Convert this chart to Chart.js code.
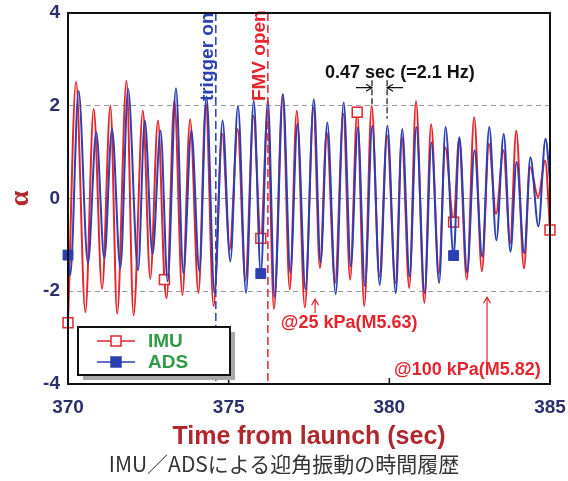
<!DOCTYPE html>
<html>
<head>
<meta charset="utf-8">
<script src="https://cdn.jsdelivr.net/npm/chart.js@4.4.0/dist/chart.umd.min.js"></script>
<style>
  body { margin: 0; background: #fff; }
  #wrap { position: relative; width: 568px; height: 481px; }
  #chartBox { position: absolute; left: 0; top: 0; width: 568px; height: 452px; }
  #caption {
    position: absolute; left: 0; top: 450px; width: 568px;
    text-align: center; font: 21px "Noto Sans CJK JP", sans-serif;
    line-height: 26px; color: #333;
  }
</style>
</head>
<body>
<div id="wrap">
  <div id="chartBox"><canvas id="alphaChart" width="568" height="452"></canvas></div>
  <div id="caption">IMU／ADSによる迎角振動の時間履歴</div>
</div>
<script>
// angle of attack, IMU (peaks / troughs and marker samples)
const imuT = [370.00, 370.25, 370.54, 370.80, 371.06, 371.32, 371.53, 371.82, 372.04, 372.33,
              372.56, 372.80, 373.00, 373.07, 373.31, 373.56, 373.80, 374.06, 374.29, 374.53,
              374.80, 375.03, 375.28, 375.52, 375.77, 376.00, 376.21, 376.41, 376.68, 376.90,
              377.12, 377.37, 377.64, 377.84, 378.05, 378.31, 378.57, 378.78, 379.00, 379.22,
              379.45, 379.69, 379.93, 380.19, 380.39, 380.62, 380.83, 381.09, 381.30, 381.54,
              381.74, 382.00, 382.17, 382.41, 382.64, 382.88, 383.10, 383.32, 383.55, 383.76,
              383.95, 384.19, 384.38, 384.63, 384.85, 385.00];
const imuA = [-2.68, 2.52, -2.45, 1.93, -1.95, 2.00, -2.48, 2.54, -2.52, 1.89,
              -1.73, 1.68, -1.75, -2.15, 2.12, -2.08, 1.71, -2.04, 2.05, -2.32,
              1.39, -1.10, 1.50, -1.76, 1.78, -0.86, 1.85, -2.38, 2.25, -1.96,
              1.89, -2.35, 1.96, -1.50, 1.43, -1.82, 1.83, -1.75, 1.86, -2.32,
              2.00, -1.68, 1.36, -1.82, 1.32, -1.93, 2.10, -2.25, 1.60, -1.61,
              1.10, -0.51, 1.29, -1.75, 1.75, -1.57, 1.18, -0.33, 1.04, -0.96,
              1.46, -1.51, 0.68, 0.03, 0.82, -0.68];

// angle of attack, ADS
const adsT = [370.00, 370.07, 370.33, 370.62, 370.88, 371.13, 371.37, 371.63, 371.87, 372.18,
              372.39, 372.63, 372.88, 373.10, 373.36, 373.59, 373.84, 374.09, 374.31, 374.56,
              374.81, 375.05, 375.29, 375.54, 375.78, 376.00, 376.22, 376.43, 376.69, 376.92,
              377.14, 377.39, 377.65, 377.86, 378.07, 378.33, 378.58, 378.80, 379.02, 379.24,
              379.47, 379.70, 379.94, 380.20, 380.40, 380.63, 380.84, 381.10, 381.31, 381.55,
              381.75, 382.00, 382.18, 382.42, 382.65, 382.89, 383.11, 383.33, 383.56, 383.77,
              383.96, 384.20, 384.39, 384.64, 384.86, 385.00];
const adsA = [-1.22, -1.65, 2.32, -1.40, 1.43, -1.29, 1.50, -1.50, 2.36, -1.55,
              1.68, -1.20, 1.46, -1.79, 2.38, -1.61, 1.46, -1.57, 2.20, -2.04,
              1.68, -1.36, 2.00, -2.04, 2.11, -1.62, 2.11, -2.12, 2.25, -1.60,
              1.61, -1.96, 2.14, -1.38, 1.64, -2.06, 2.07, -1.46, 1.53, -1.89,
              1.57, -1.86, 1.57, -2.04, 1.50, -1.68, 1.54, -2.04, 1.21, -1.82,
              1.54, -1.23, 1.32, -1.60, 1.04, -1.25, 1.54, -0.90, 1.39, -1.15,
              0.79, -1.18, 0.89, -0.60, 1.29, 0.40];

// times where the symbols are plotted
const imuMarkT = [370, 373, 376, 379, 382, 385];
const adsMarkT = [370, 376, 382];

// events
const triggerT = 374.6;
const fmvT = 376.22;
const periodT = [379.46, 379.93];

const RED = '#e5252d';
const BLUE = '#2c3fb3';
const NAVY = '#2b2f6c';
const DARKRED = '#b0272e';
const GREEN = '#2f9b45';
const FONT = '"Liberation Sans", Arial, sans-serif';

function toXY(ts, vs) {
    return ts.map(function (t, i) { return {x: t, y: vs[i]}; });
}

// no extra room for overhanging tick labels, the frame sits where the padding says
function noOverhang(s) {
    s.paddingLeft = 0;
    s.paddingRight = 0;
    s.paddingTop = 0;
    s.paddingBottom = 0;
}

function arrowHead(ctx, x, y, dx, dy) {
    // open arrow head at (x,y) pointing in direction (dx,dy)
    const len = 6, w = 3.5;
    const px = -dy, py = dx;
    ctx.beginPath();
    ctx.moveTo(x - dx * len + px * w, y - dy * len + py * w);
    ctx.lineTo(x, y);
    ctx.lineTo(x - dx * len - px * w, y - dy * len - py * w);
    ctx.stroke();
}

function vText(ctx, text, x, y, color) {
    ctx.save();
    ctx.translate(x, y);
    ctx.rotate(-Math.PI / 2);
    ctx.fillStyle = color;
    ctx.font = 'bold 19px ' + FONT;
    ctx.textAlign = 'left';
    ctx.textBaseline = 'alphabetic';
    ctx.fillText(text, 0, 0);
    ctx.restore();
}

const overlay = {
    id: 'overlay',
    afterDatasetsDraw(chart) {
        const ctx = chart.ctx, a = chart.chartArea;
        const xs = chart.scales.x, ys = chart.scales.y;
        ctx.save();

        // trigger / FMV lines
        ctx.lineWidth = 1.5;
        ctx.setLineDash([8, 4]);
        [[triggerT, BLUE], [fmvT, RED]].forEach(function (e) {
            const px = xs.getPixelForValue(e[0]);
            ctx.strokeStyle = e[1];
            ctx.beginPath();
            ctx.moveTo(px, a.top);
            ctx.lineTo(px, a.bottom);
            ctx.stroke();
        });
        ctx.setLineDash([]);
        vText(ctx, 'trigger on', xs.getPixelForValue(triggerT) - 3, ys.getPixelForValue(2.1), BLUE);
        vText(ctx, 'FMV open', xs.getPixelForValue(fmvT) - 3, ys.getPixelForValue(2.1), RED);

        // oscillation period
        const p1 = xs.getPixelForValue(periodT[0]);
        const p2 = xs.getPixelForValue(periodT[1]);
        const ay = ys.getPixelForValue(2.39);
        ctx.strokeStyle = '#111';
        ctx.lineWidth = 1.2;
        ctx.setLineDash([6, 3]);
        ctx.beginPath();
        ctx.moveTo(p1, ys.getPixelForValue(2.55));
        ctx.lineTo(p1, ys.getPixelForValue(2.0));
        ctx.moveTo(p2, ys.getPixelForValue(2.55));
        ctx.lineTo(p2, ys.getPixelForValue(1.72));
        ctx.stroke();
        ctx.setLineDash([]);
        ctx.beginPath();
        ctx.moveTo(p1 - 16, ay);
        ctx.lineTo(p1, ay);
        ctx.moveTo(p2 + 16, ay);
        ctx.lineTo(p2, ay);
        ctx.stroke();
        arrowHead(ctx, p1, ay, 1, 0);
        arrowHead(ctx, p2, ay, -1, 0);
        ctx.fillStyle = '#111';
        ctx.font = 'bold 18px ' + FONT;
        ctx.textAlign = 'left';
        ctx.textBaseline = 'middle';
        ctx.fillText('0.47 sec (=2.1 Hz)', xs.getPixelForValue(378.0), ys.getPixelForValue(2.71));

        // dynamic pressure notes
        ctx.strokeStyle = RED;
        ctx.fillStyle = RED;
        ctx.lineWidth = 1.2;
        [[377.69, -2.47, -2.17], [383.04, -3.55, -2.13]].forEach(function (n) {
            const nx = xs.getPixelForValue(n[0]);
            const top = ys.getPixelForValue(n[2]);
            ctx.beginPath();
            ctx.moveTo(nx, ys.getPixelForValue(n[1]));
            ctx.lineTo(nx, top);
            ctx.stroke();
            arrowHead(ctx, nx, top, 0, -1);
        });
        ctx.font = 'bold 18px ' + FONT;
        ctx.textAlign = 'center';
        ctx.fillText('@25 kPa(M5.63)', xs.getPixelForValue(378.75), ys.getPixelForValue(-2.69));
        ctx.fillText('@100 kPa(M5.82)', xs.getPixelForValue(382.43), ys.getPixelForValue(-3.7));
        ctx.restore();
    },
    afterDraw(chart) {
        const ctx = chart.ctx, a = chart.chartArea, xs = chart.scales.x;
        ctx.save();

        // inner ticks on the time axis
        ctx.strokeStyle = '#111';
        ctx.lineWidth = 1.5;
        xs.ticks.forEach(function (t) {
            const px = xs.getPixelForValue(t.value);
            ctx.beginPath();
            ctx.moveTo(px, a.bottom);
            ctx.lineTo(px, a.bottom - 6);
            ctx.stroke();
        });

        // frame
        ctx.lineWidth = 2;
        ctx.strokeRect(a.left, a.top, a.right - a.left, a.bottom - a.top);

        // legend box with drop shadow
        const bx = a.left + 10, by = a.bottom - 57, bw = 152, bh = 48;
        ctx.fillStyle = '#a8a8a8';
        ctx.fillRect(bx + 5, by + 5, bw, bh);
        ctx.fillStyle = '#fff';
        ctx.fillRect(bx, by, bw, bh);
        ctx.strokeStyle = '#111';
        ctx.lineWidth = 2;
        ctx.strokeRect(bx, by, bw, bh);

        const rows = [['IMU', RED, '#fff', 14], ['ADS', BLUE, BLUE, 35]];
        rows.forEach(function (r) {
            const ry = by + r[3];
            ctx.strokeStyle = r[1];
            ctx.lineWidth = 1.5;
            ctx.beginPath();
            ctx.moveTo(bx + 19, ry);
            ctx.lineTo(bx + 57, ry);
            ctx.stroke();
            ctx.fillStyle = r[2];
            ctx.fillRect(bx + 33, ry - 5, 10, 10);
            ctx.strokeRect(bx + 33, ry - 5, 10, 10);
            ctx.fillStyle = GREEN;
            ctx.font = 'bold 19px ' + FONT;
            ctx.textAlign = 'left';
            ctx.textBaseline = 'middle';
            ctx.fillText(r[0], bx + 70, ry + 1);
        });
        ctx.restore();
    }
};

new Chart(document.getElementById('alphaChart'), {
    type: 'line',
    data: {
        datasets: [{
            label: 'IMU',
            data: toXY(imuT, imuA),
            borderColor: RED,
            borderWidth: 2,
            cubicInterpolationMode: 'monotone',
            clip: 8,
            pointStyle: 'rect',
            pointRadius: function (c) { return imuMarkT.includes(c.raw.x) ? 7 : 0; },
            pointBackgroundColor: '#fff',
            pointBorderColor: RED,
            pointBorderWidth: 1.5,
            order: 1
        }, {
            label: 'ADS',
            data: toXY(adsT, adsA),
            borderColor: BLUE,
            borderWidth: 2,
            cubicInterpolationMode: 'monotone',
            clip: 8,
            pointStyle: 'rect',
            pointRadius: function (c) { return adsMarkT.includes(c.raw.x) ? 7 : 0; },
            pointBackgroundColor: BLUE,
            pointBorderColor: BLUE,
            pointBorderWidth: 1,
            order: 0
        }]
    },
    options: {
        responsive: false,
        animation: false,
        layout: {padding: {top: 13, right: 18, left: 0, bottom: 0}},
        plugins: {legend: {display: false}, tooltip: {enabled: false}},
        scales: {
            x: {
                type: 'linear',
                min: 370,
                max: 385,
                afterFit: function (s) { noOverhang(s); s.height = 68; },
                grid: {display: false, drawTicks: false},
                border: {display: false},
                ticks: {stepSize: 5, padding: 12, color: NAVY, font: {family: FONT, size: 19, weight: 'bold'}},
                title: {display: true, text: 'Time from launch (sec)', color: DARKRED, padding: 0,
                        font: {family: FONT, size: 25, weight: 'bold'}}
            },
            y: {
                min: -4,
                max: 4,
                afterFit: function (s) { noOverhang(s); s.width = 68; },
                grid: {
                    drawTicks: false,
                    lineWidth: 1,
                    color: function (c) { return Math.abs(c.tick.value) === 4 ? 'rgba(0,0,0,0)' : '#999'; }
                },
                border: {display: false, dash: [5, 4]},
                ticks: {stepSize: 2, padding: 8, color: NAVY, font: {family: FONT, size: 19, weight: 'bold'}},
                title: {display: true, text: 'α', color: DARKRED, padding: {top: 4, bottom: 0},
                        font: {family: '"Liberation Serif", serif', size: 28, weight: 'bold'}}
            }
        }
    },
    plugins: [overlay]
});
</script>
</body>
</html>
